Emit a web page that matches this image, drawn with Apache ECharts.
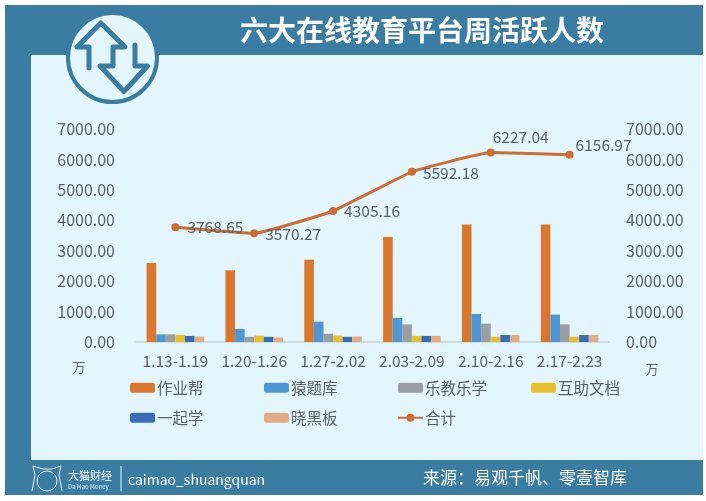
<!DOCTYPE html>
<html>
<head>
<meta charset="utf-8">
<style>html,body{margin:0;padding:0;background:#fff}#chart{width:706px;height:501px}</style>
<script src="https://cdn.jsdelivr.net/npm/echarts@6/dist/echarts.min.js"></script>
</head>
<body>
<div id="chart"></div>
<script>
const weeks = ['1.13-1.19', '1.20-1.26', '1.27-2.02', '2.03-2.09', '2.10-2.16', '2.17-2.23']
const zuoyebang = [2600, 2355, 2705, 3450, 3860, 3860]
const yuantiku = [250, 430, 670, 790, 920, 900]
const lejiao = [250, 170, 270, 580, 600, 580]
const huzhu = [230, 210, 210, 200, 175, 175]
const yiqixue = [200, 170, 170, 200, 230, 230]
const xiaoheiban = [180, 150, 180, 200, 230, 230]
const total = [3768.65, 3570.27, 4305.16, 5592.18, 6227.04, 6156.97]

const barNames = ['作业帮', '猿题库', '乐教乐学', '互助文档', '一起学', '晓黑板']
const barValues = [zuoyebang, yuantiku, lejiao, huzhu, yiqixue, xiaoheiban]
const barColors = ['#d9772f', '#4f97d4', '#9a9fa3', '#e8bf2e', '#3a6bb5', '#e2ad85']
const lineColor = '#cc6d36'

// 折线标签相对数据点的偏移
const labelOffsets = [[8, 0], [7, 1], [7, 0], [7, 1], [-2, -15], [2, -10]]
// 图例位置：[left, top]
const legendSlots = [[130, 380], [264, 380], [398, 380], [531, 380], [130, 410], [264, 410], [397, 410]]

const BLUE = '#3b7ca2'
const PANEL = '#e3f6fe'
const FONT = '"Noto Sans CJK SC", "Noto Sans", sans-serif'
const TEXT = '#5b6066'

const chart = echarts.init(document.getElementById('chart'))

const yAxisBase = {
  type: 'value',
  min: 0,
  max: 7000,
  interval: 1000,
  splitLine: { show: false },
  axisLine: { show: false },
  axisTick: { show: false },
  axisLabel: { color: TEXT, fontSize: 16, fontFamily: FONT, margin: 21, formatter: (v) => v.toFixed(2) },
}

const barSeries = barNames.map((name, i) => ({
  name,
  type: 'bar',
  data: barValues[i],
  barWidth: 9.6,
  barGap: 0,
  itemStyle: { color: barColors[i] },
}))

const legendNames = [...barNames, '合计']

const option = {
  animation: false,
  backgroundColor: '#fff',
  textStyle: { fontFamily: FONT },
  grid: { left: 136, right: 97, top: 129, bottom: 159 },
  xAxis: {
    type: 'category',
    data: weeks,
    axisTick: { show: false },
    axisLine: { lineStyle: { color: '#c6d3da', width: 1.5 } },
    axisLabel: { color: TEXT, fontSize: 15.5, fontFamily: FONT, margin: 11, interval: 0 },
  },
  yAxis: [yAxisBase, { ...yAxisBase, position: 'right', axisLabel: { ...yAxisBase.axisLabel, margin: 17 } }],
  legend: legendNames.map((name, i) => ({
    data: [name],
    left: legendSlots[i][0],
    top: legendSlots[i][1],
    padding: 0,
    itemWidth: 25,
    itemHeight: 10,
    itemGap: 0,
    textStyle: { color: TEXT, fontSize: 15.5, fontFamily: FONT, padding: [0, 0, 0, -3] },
  })),
  series: [
    ...barSeries,
    {
      name: '合计',
      type: 'line',
      yAxisIndex: 1,
      data: total.map((value, i) => ({
        value,
        label: { offset: labelOffsets[i] },
      })),
      smooth: 0.1,
      symbol: 'circle',
      symbolSize: 8,
      lineStyle: { color: lineColor, width: 3 },
      itemStyle: { color: lineColor },
      label: {
        show: true,
        position: 'right',
        distance: 0,
        color: TEXT,
        fontSize: 15.5,
        fontFamily: FONT,
        formatter: (p) => p.value.toFixed(2),
      },
    },
  ],
  graphic: [
    // 底板
    { type: 'rect', shape: { x: 5, y: 5, width: 698, height: 490 }, style: { fill: BLUE }, z: -10 },
    { type: 'rect', shape: { x: 31, y: 55, width: 672, height: 405 }, style: { fill: PANEL }, z: -9 },
    // 圆形图标
    { type: 'circle', shape: { cx: 112.5, cy: 57.5, r: 44.5 }, style: { fill: PANEL, stroke: BLUE, lineWidth: 4 }, z: -8 },
    {
      type: 'polyline',
      shape: { points: [[89, 68], [89, 47], [77, 47], [100.7, 23], [125, 47], [113, 47], [113, 66], [100, 66], [124, 91.5], [147.5, 66], [135, 66], [135, 45]] },
      style: { fill: 'none', stroke: BLUE, lineWidth: 5, lineJoin: 'round', lineCap: 'round' },
      z: -7,
    },
    // 标题
    {
      type: 'text', x: 422, y: 30,
      style: { text: '六大在线教育平台周活跃人数', fill: '#fff', font: `bold 28px ${FONT}`, align: 'center', verticalAlign: 'middle' },
      z: -7,
    },
    // 单位
    { type: 'text', x: 79, y: 367, style: { text: '万', fill: TEXT, font: `13px ${FONT}`, align: 'center', verticalAlign: 'middle' } },
    { type: 'text', x: 652, y: 369, style: { text: '万', fill: TEXT, font: `13px ${FONT}`, align: 'center', verticalAlign: 'middle' } },
    // 页脚
    { type: 'circle', shape: { cx: 47, cy: 481, r: 10 }, style: { fill: 'none', stroke: '#e8f4fa', lineWidth: 1 } },
    { type: 'polyline', shape: { points: [[32, 491], [35, 475], [33, 466], [43, 469], [52, 469], [61, 466], [59, 475], [62, 491]] }, style: { fill: 'none', stroke: '#e8f4fa', lineWidth: 1 } },
    { type: 'text', x: 68, y: 476, style: { text: '大猫财经', fill: '#fff', font: `11px ${FONT}`, verticalAlign: 'middle' } },
    { type: 'text', x: 68, y: 487, style: { text: 'Da Mao Money', fill: '#e8f4fa', font: `6px ${FONT}`, verticalAlign: 'middle' } },
    { type: 'rect', shape: { x: 120.5, y: 466, width: 1, height: 25 }, style: { fill: '#e8f4fa' } },
    { type: 'text', x: 128, y: 480, style: { text: 'caimao_shuangquan', fill: '#fff', font: `14px ${FONT}`, verticalAlign: 'middle' } },
    { type: 'text', x: 423, y: 478, style: { text: '来源：易观千帆、零壹智库', fill: '#fff', font: `17px ${FONT}`, verticalAlign: 'middle' } },
  ],
}

chart.setOption(option)
</script>
</body>
</html>
